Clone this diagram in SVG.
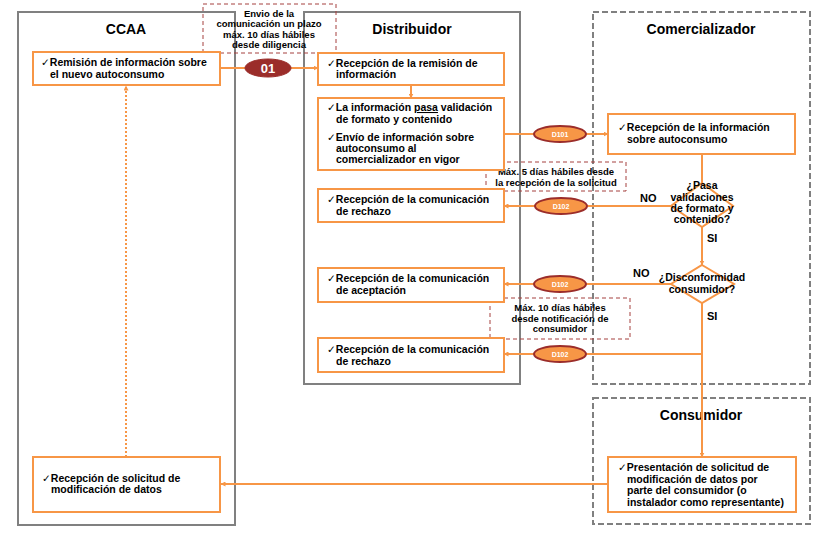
<svg xmlns="http://www.w3.org/2000/svg" width="836" height="552" viewBox="0 0 836 552">
<defs>
<marker id="arr" viewBox="0 0 10 10" refX="9" refY="5" markerWidth="5" markerHeight="5" orient="auto" markerUnits="userSpaceOnUse">
<path d="M0,0 L10,5 L0,10 z" fill="#f79646"/>
</marker>
<style>
.lane{fill:none;stroke:#808080;stroke-width:2}
.dlane{fill:none;stroke:#808080;stroke-width:2;stroke-dasharray:6,3}
.hdr{font-family:"Liberation Sans",Arial,sans-serif;font-size:14px;font-weight:bold;fill:#000;text-anchor:middle}
.box{fill:#fff;stroke:#f79646;stroke-width:2}
.t{font-family:"Liberation Sans",Arial,sans-serif;font-size:10.5px;font-weight:bold;fill:#000}
.ck{font-family:"DejaVu Sans",sans-serif;font-weight:normal;font-size:10.5px}
.note{fill:none;stroke:#a5403e;stroke-width:1;stroke-dasharray:4,3}
.nt{font-family:"Liberation Sans",Arial,sans-serif;font-size:9.5px;font-weight:bold;fill:#000;text-anchor:middle}
.c{fill:none;stroke:#f79646;stroke-width:2}
.e1{fill:#9b2d2a;stroke:#9b2d2a;stroke-width:1}
.e2{fill:#f79646;stroke:#9b2d2a;stroke-width:2}
.et{font-family:"Liberation Sans",Arial,sans-serif;font-weight:bold;fill:#fff;text-anchor:middle}
.lb{font-family:"Liberation Sans",Arial,sans-serif;font-size:11px;font-weight:bold;fill:#000}
.dt{font-family:"Liberation Sans",Arial,sans-serif;font-size:10.5px;font-weight:bold;fill:#000;text-anchor:middle}
</style>
</defs>
<rect width="836" height="552" fill="#fff"/>
<g id="lane-ccaa">
<rect class="lane" x="18" y="12" width="217" height="513"/>
<text class="hdr" x="126" y="34">CCAA</text>
</g>
<g id="lane-distribuidor">
<rect class="lane" x="304" y="12" width="216" height="372"/>
<text class="hdr" x="412" y="34">Distribuidor</text>
</g>
<g id="lane-comercializador">
<rect class="dlane" x="593" y="12" width="217" height="372"/>
<text class="hdr" x="701" y="34">Comercializador</text>
</g>
<g id="lane-consumidor">
<rect class="dlane" x="593" y="398" width="217" height="126"/>
<text class="hdr" x="701" y="420">Consumidor</text>
</g>
<g id="connectors">
<line class="c" x1="220" y1="68" x2="318" y2="68" marker-end="url(#arr)"/>
<line class="c" x1="411" y1="85" x2="411" y2="98" marker-end="url(#arr)"/>
<line class="c" x1="504" y1="134" x2="608" y2="134" marker-end="url(#arr)"/>
<line class="c" x1="702" y1="154" x2="702" y2="183"/>
<line class="c" x1="671" y1="206" x2="504" y2="206" marker-end="url(#arr)"/>
<line class="c" x1="702" y1="227" x2="702" y2="265" marker-end="url(#arr)"/>
<line class="c" x1="671" y1="284" x2="504" y2="284" marker-end="url(#arr)"/>
<line class="c" x1="702" y1="303" x2="702" y2="457" marker-end="url(#arr)"/>
<polyline class="c" points="702,354 504,354" marker-end="url(#arr)"/>
<line class="c" x1="608" y1="484" x2="221" y2="484" marker-end="url(#arr)"/>
<line class="c" x1="126" y1="457" x2="126" y2="86" stroke-dasharray="2,2" marker-end="url(#arr)"/>
<ellipse class="e1" cx="268" cy="68" rx="23" ry="9"/>
<text class="et" x="268" y="73" font-size="13">01</text>
<ellipse class="e2" cx="560" cy="134" rx="26" ry="8"/>
<text class="et" x="560" y="137" font-size="7">D101</text>
<ellipse class="e2" cx="561" cy="206" rx="26" ry="8"/>
<text class="et" x="561" y="209" font-size="7">D102</text>
<ellipse class="e2" cx="560" cy="284" rx="26" ry="8"/>
<text class="et" x="560" y="287" font-size="7">D102</text>
<ellipse class="e2" cx="560" cy="354" rx="26" ry="8"/>
<text class="et" x="560" y="357" font-size="7">D102</text>
<text class="lb" x="640" y="202">NO</text>
<text class="lb" x="707" y="242">SI</text>
<text class="lb" x="633" y="277">NO</text>
<text class="lb" x="707" y="320">SI</text>
</g>
<g id="note-envio">
<rect class="note" x="203" y="4" width="133" height="49"/>
<text class="nt" x="269" y="16.5" font-size="9">Envio de la</text>
<text class="nt" x="269" y="27" font-size="9">comunicación un plazo</text>
<text class="nt" x="269" y="37.5" font-size="9">máx. 10 días hábiles</text>
<text class="nt" x="269" y="48" font-size="9">desde diligencia</text>
</g>
<g id="note-5dias">
<rect class="note" x="486" y="162" width="140" height="29"/>
<text class="nt" x="556" y="175">Máx. 5 días hábiles desde</text>
<text class="nt" x="556" y="186">la recepción de la solicitud</text>
</g>
<g id="note-10dias">
<rect class="note" x="490" y="298" width="140" height="41"/>
<text class="nt" x="560" y="311">Máx. 10 días hábiles</text>
<text class="nt" x="560" y="322">desde notificación de</text>
<text class="nt" x="560" y="332">consumidor</text>
</g>
<g id="ccaa-remision">
<rect class="box" x="33" y="52" width="187" height="33"/>
<text class="t" x="41" y="66"><tspan class="ck">✓</tspan>Remisión de información sobre</text>
<text class="t" x="50" y="78">el nuevo autoconsumo</text>
</g>
<g id="dist-recepcion-remision">
<rect class="box" x="318" y="53" width="186" height="32"/>
<text class="t" x="327" y="67"><tspan class="ck">✓</tspan>Recepción de la remisión de</text>
<text class="t" x="336" y="78">información</text>
</g>
<g id="dist-validacion">
<rect class="box" x="318" y="98" width="186" height="72"/>
<text class="t" x="327" y="111"><tspan class="ck">✓</tspan>La información <tspan text-decoration="underline">pasa</tspan> validación</text>
<text class="t" x="336" y="123">de formato y contenido</text>
<text class="t" x="327" y="141"><tspan class="ck">✓</tspan>Envío de información sobre</text>
<text class="t" x="336" y="152">autoconsumo al</text>
<text class="t" x="336" y="163">comercializador en vigor</text>
</g>
<g id="dist-rechazo-1">
<rect class="box" x="318" y="189" width="186" height="33"/>
<text class="t" x="327" y="203"><tspan class="ck">✓</tspan>Recepción de la comunicación</text>
<text class="t" x="336" y="215">de rechazo</text>
</g>
<g id="dist-aceptacion">
<rect class="box" x="318" y="268" width="186" height="34"/>
<text class="t" x="327" y="282"><tspan class="ck">✓</tspan>Recepción de la comunicación</text>
<text class="t" x="336" y="294">de aceptación</text>
</g>
<g id="dist-rechazo-2">
<rect class="box" x="318" y="338" width="186" height="34"/>
<text class="t" x="327" y="353"><tspan class="ck">✓</tspan>Recepción de la comunicación</text>
<text class="t" x="336" y="365">de rechazo</text>
</g>
<g id="com-recepcion">
<rect class="box" x="608" y="114" width="187" height="40"/>
<text class="t" x="618" y="131"><tspan class="ck">✓</tspan>Recepción de la información</text>
<text class="t" x="627" y="143">sobre autoconsumo</text>
</g>
<g id="com-decision-validacion">
<polygon class="box" points="702,183 733,206 702,227 671,206"/>
<text class="dt" x="702" y="189">¿Pasa</text>
<text class="dt" x="702" y="201">validaciones</text>
<text class="dt" x="702" y="212">de formato y</text>
<text class="dt" x="702" y="223">contenido?</text>
</g>
<g id="com-decision-disconformidad">
<polygon class="box" points="702,265 734,284 702,303 671,284"/>
<text class="dt" x="702" y="281">¿Disconformidad</text>
<text class="dt" x="702" y="293">consumidor?</text>
</g>
<g id="cons-presentacion">
<rect class="box" x="608" y="457" width="188" height="55"/>
<text class="t" x="618" y="471"><tspan class="ck">✓</tspan>Presentación de solicitud de</text>
<text class="t" x="627" y="483">modificación de datos por</text>
<text class="t" x="627" y="494">parte del consumidor (o</text>
<text class="t" x="627" y="506">instalador como representante)</text>
</g>
<g id="ccaa-recepcion-solicitud">
<rect class="box" x="33" y="457" width="187" height="55"/>
<text class="t" x="42" y="482"><tspan class="ck">✓</tspan>Recepción de solicitud de</text>
<text class="t" x="51" y="493">modificación de datos</text>
</g>
</svg>
